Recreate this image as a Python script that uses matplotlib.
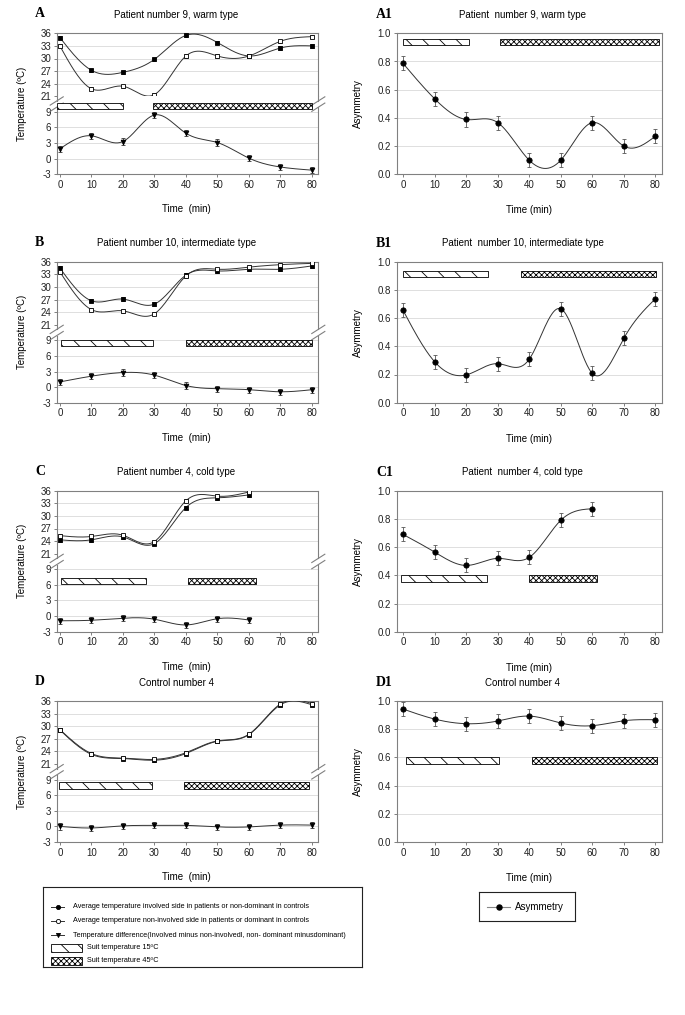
import numpy as np
import matplotlib
matplotlib.use("Agg")
import matplotlib.pyplot as plt
from matplotlib.patches import Rectangle

plt.rcParams['font.family'] = ['Liberation Sans', 'DejaVu Sans']
plt.rcParams['axes.unicode_minus'] = False
plt.rcParams['hatch.linewidth'] = 0.6

W, H = 685, 1015

time = [0, 10, 20, 30, 40, 50, 60, 70, 80]
time_c = [0, 10, 20, 30, 40, 50, 60]

# temperature (ºC): involved / non-involved side and their difference
a_inv = [35.0, 27.2, 26.7, 29.8, 35.5, 33.8, 30.6, 32.5, 33.0]
a_non = [33.0, 22.8, 23.4, 21.4, 30.6, 30.6, 30.6, 34.1, 35.2]
a_diff = [1.9, 4.4, 3.3, 8.4, 4.9, 3.1, 0.1, -1.6, -2.2]

b_inv = [34.5, 26.7, 27.1, 25.9, 32.8, 33.8, 34.2, 34.2, 35.0]
b_non = [33.6, 24.6, 24.3, 23.6, 32.6, 34.2, 34.7, 35.3, 35.6]
b_diff = [1.0, 2.1, 2.8, 2.3, 0.3, -0.3, -0.5, -0.9, -0.5]

c_inv = [24.3, 24.3, 25.0, 23.4, 32.0, 34.3, 35.0]
c_non = [25.3, 25.1, 25.4, 23.9, 33.6, 34.7, 35.7]
c_diff = [-0.9, -0.8, -0.4, -0.6, -1.7, -0.5, -0.75]

d_inv = [29.1, 23.3, 22.3, 21.9, 23.5, 26.4, 28.0, 35.1, 35.1]
d_non = [29.2, 23.5, 22.4, 22.1, 23.7, 26.5, 28.1, 35.3, 35.4]
d_diff = [0.0, -0.3, 0.1, 0.2, 0.2, -0.1, -0.1, 0.25, 0.25]

temp_err = 0.4
diff_err = 0.6

# asymmetry
a1_asym = [0.787, 0.536, 0.389, 0.367, 0.10, 0.10, 0.367, 0.20, 0.27]
b1_asym = [0.656, 0.291, 0.197, 0.277, 0.308, 0.666, 0.208, 0.457, 0.737]
c1_asym = [0.69, 0.565, 0.47, 0.52, 0.527, 0.79, 0.872]
d1_asym = [0.943, 0.872, 0.839, 0.858, 0.893, 0.844, 0.825, 0.86, 0.867]
asym_err = 0.05

# suit periods: (start, end) for 15ºC and 45ºC, and bar band (low, high)
a_suit = [(-0.9, 20.1), (29.4, 80.0), (9.5, 10.7)]
b_suit = [(0.3, 29.7), (40.0, 80.0), (7.9, 9.0)]
c_suit = [(0.5, 27.3), (40.8, 62.3), (6.1, 7.3)]
d_suit = [(-0.2, 29.1), (39.5, 79.1), (7.25, 8.5)]
a1_suit = [(0.0, 20.8), (30.9, 81.3), (0.917, 0.96)]
b1_suit = [(0.1, 26.8), (37.4, 80.2), (0.89, 0.936)]
c1_suit = [(-0.5, 26.6), (40.0, 61.5), (0.353, 0.40)]
d1_suit = [(1.0, 30.5), (41.0, 80.6), (0.552, 0.60)]

LINE = '#333333'
SPINE = '#808080'
GRID = '#d9d9d9'
FS = 7


def spline(x, y, n=30):
    # natural cubic spline for the smoothed connecting line
    x = np.asarray(x, float)
    y = np.asarray(y, float)
    k = len(x)
    h = np.diff(x)
    A = np.zeros((k, k))
    r = np.zeros(k)
    A[0, 0] = A[-1, -1] = 1
    for i in range(1, k - 1):
        A[i, i - 1] = h[i - 1]
        A[i, i] = 2 * (h[i - 1] + h[i])
        A[i, i + 1] = h[i]
        r[i] = 6 * ((y[i + 1] - y[i]) / h[i] - (y[i] - y[i - 1]) / h[i - 1])
    m = np.linalg.solve(A, r)
    xs = np.linspace(x[0], x[-1], n * (k - 1) + 1)
    idx = np.clip(np.searchsorted(x, xs) - 1, 0, k - 2)
    x0, x1 = x[idx], x[idx + 1]
    hh = x1 - x0
    t0, t1 = x1 - xs, xs - x0
    ys = (m[idx] * t0 ** 3 + m[idx + 1] * t1 ** 3) / (6 * hh) \
        + (y[idx] / hh - m[idx] * hh / 6) * t0 \
        + (y[idx + 1] / hh - m[idx + 1] * hh / 6) * t1
    return xs, ys


def box(x0, y0, x1, y1):
    return [x0 / W, 1 - y1 / H, (x1 - x0) / W, (y1 - y0) / H]


def style(ax):
    for s in ax.spines.values():
        s.set_color(SPINE)
        s.set_linewidth(0.8)
    ax.tick_params(colors=SPINE, labelcolor='#222222', labelsize=FS,
                   length=2.5, width=0.7, pad=1.5)
    ax.grid(axis='y', color=GRID, lw=0.6)
    ax.set_axisbelow(True)


def suit_bars(ax, suit):
    (c0, c1), (h0, h1), (lo, hi) = suit
    ax.add_patch(Rectangle((c0, lo), c1 - c0, hi - lo, facecolor='white',
                           edgecolor='black', hatch='\\\\', lw=0.6, zorder=3))
    ax.add_patch(Rectangle((h0, lo), h1 - h0, hi - lo, facecolor='white',
                           edgecolor='black', hatch='xxxxxx', lw=0.6, zorder=3))


def series(ax, x, y, err, marker, face, ms, ecolor=LINE):
    xs, ys = spline(x, y)
    ax.plot(xs, ys, color=LINE, lw=0.7, zorder=4)
    ax.errorbar(x, y, yerr=err, fmt='none', ecolor=ecolor, elinewidth=0.6,
                capsize=1.6, capthick=0.6, zorder=5)
    ax.plot(x, y, marker, ms=ms, mfc=face, mec='black', mew=0.6, zorder=6)


def temp_panel(top, x, inv, non, diff, suit, letter, title):
    up = fig.add_axes(box(56.7, top, 318.3, top + 63))
    lo = fig.add_axes(box(56.7, top + 63, 318.3, top + 141))
    for ax in (up, lo):
        style(ax)
        ax.set_xlim(-1, 82)
    up.set_ylim(21, 36)
    up.set_yticks(range(21, 37, 3))
    up.spines['bottom'].set_visible(False)
    up.tick_params(axis='x', bottom=False, labelbottom=False)
    lo.set_ylim(-3, 12)
    lo.set_yticks([-3, 0, 3, 6, 9])
    lo.set_xticks(time)
    lo.spines['top'].set_visible(False)
    lo.spines['left'].set_bounds(-3, 9.9)
    lo.spines['right'].set_bounds(-3, 9.9)
    tr = lo.get_yaxis_transform()
    for xe in (0, 1):
        lo.plot([xe, xe], [11.1, 12], color=SPINE, lw=0.8, transform=tr, clip_on=False)
        for yc in (9.9, 11.1):
            lo.plot([xe - 0.025, xe + 0.025], [yc - 0.8, yc + 0.8], color=SPINE,
                    lw=0.8, transform=tr, clip_on=False)

    series(up, x, inv, temp_err, 's', 'black', 3.2)
    series(up, x, non, temp_err, 's', 'white', 3.2)
    series(lo, x, diff, diff_err, 'v', 'black', 3.4)
    suit_bars(lo, suit)

    fig.text(35 / W, 1 - (top - 16) / H, letter, family='Liberation Serif',
             weight='bold', fontsize=10, va='baseline')
    fig.text(176.5 / W, 1 - (top - 18.3) / H, title, fontsize=FS, ha='center', va='center')
    fig.text(21.7 / W, 1 - (top + 70.5) / H, 'Temperature (ºC)', rotation=90,
             fontsize=FS, ha='center', va='center')
    fig.text(186.7 / W, 1 - (top + 176) / H, 'Time  (min)', fontsize=FS,
             ha='center', va='center')


def asym_panel(top, x, asym, suit, letter, title):
    ax = fig.add_axes(box(396.7, top, 661.7, top + 141))
    style(ax)
    ax.set_xlim(-2, 82)
    ax.set_ylim(0, 1)
    ax.set_xticks(time)
    ax.set_yticks(np.arange(0, 1.01, 0.2))
    ax.set_yticklabels(['%.1f' % v for v in np.arange(0, 1.01, 0.2)])
    series(ax, x, asym, asym_err, 'o', 'black', 3.8, ecolor='#555555')
    suit_bars(ax, suit)

    fig.text(376 / W, 1 - (top - 15) / H, letter, family='Liberation Serif',
             weight='bold', fontsize=10, va='baseline')
    fig.text(522.5 / W, 1 - (top - 18.3) / H, title, fontsize=FS, ha='center', va='center')
    fig.text(358 / W, 1 - (top + 70.5) / H, 'Asymmetry', rotation=90,
             fontsize=FS, ha='center', va='center')
    fig.text(529 / W, 1 - (top + 177) / H, 'Time (min)', fontsize=FS,
             ha='center', va='center')


fig = plt.figure(figsize=(W / 100, H / 100), dpi=100)

temp_panel(33.3, time, a_inv, a_non, a_diff, a_suit, 'A', 'Patient number 9, warm type')
temp_panel(261.7, time, b_inv, b_non, b_diff, b_suit, 'B', 'Patient number 10, intermediate type')
temp_panel(490.7, time_c, c_inv, c_non, c_diff, c_suit, 'C', 'Patient number 4, cold type')
temp_panel(701, time, d_inv, d_non, d_diff, d_suit, 'D', 'Control number 4')

asym_panel(33.3, time, a1_asym, a1_suit, 'A1', 'Patient  number 9, warm type')
asym_panel(261.7, time, b1_asym, b1_suit, 'B1', 'Patient  number 10, intermediate type')
asym_panel(490.7, time_c, c1_asym, c1_suit, 'C1', 'Patient  number 4, cold type')
asym_panel(701, time, d1_asym, d1_suit, 'D1', 'Control number 4')

# legend for the temperature panels
lg = fig.add_axes(box(43, 886.7, 362, 966.7))
lg.set_xlim(0, 319)
lg.set_ylim(80, 0)
lg.set_xticks([])
lg.set_yticks([])
for s in lg.spines.values():
    s.set_linewidth(0.8)
    s.set_color('#222222')
entries = [('o', 'black', 'Average temperature involved side in patients or non-dominant in controls'),
           ('o', 'white', 'Average temperature non-involved side in patients or dominant in controls'),
           ('v', 'black', 'Temperature difference(Involved minus non-involvedl, non- dominant minusdominant)')]
for i, (mk, face, label) in enumerate(entries):
    yy = 20 + 14.2 * i
    lg.plot([8, 21], [yy, yy], color=LINE, lw=0.7)
    lg.plot([14.5], [yy], mk, ms=3, mfc=face, mec='black', mew=0.6)
    lg.text(29.7, yy, label, fontsize=5.2, va='center')
for i, (hatch, label) in enumerate([('\\\\', 'Suit temperature 15ºC'),
                                    ('xxxxxx', 'Suit temperature 45ºC')]):
    yy = 61 + 13 * i
    lg.add_patch(Rectangle((8, yy - 4), 30.7, 8, facecolor='white',
                           edgecolor='black', hatch=hatch, lw=0.6))
    lg.text(44.3, yy, label, fontsize=5.2, va='center')

# legend for the asymmetry panels
lg2 = fig.add_axes(box(479.3, 892.3, 575.3, 921.3))
lg2.set_xlim(0, 96)
lg2.set_ylim(29, 0)
lg2.set_xticks([])
lg2.set_yticks([])
for s in lg2.spines.values():
    s.set_linewidth(0.8)
    s.set_color('#222222')
lg2.plot([8, 30.7], [15, 15], color='#888888', lw=0.8)
lg2.plot([19.4], [15], 'o', ms=3.6, mfc='black', mec='black')
lg2.text(35.7, 15, 'Asymmetry', fontsize=FS, va='center')

fig.savefig('out.png', dpi=100)
